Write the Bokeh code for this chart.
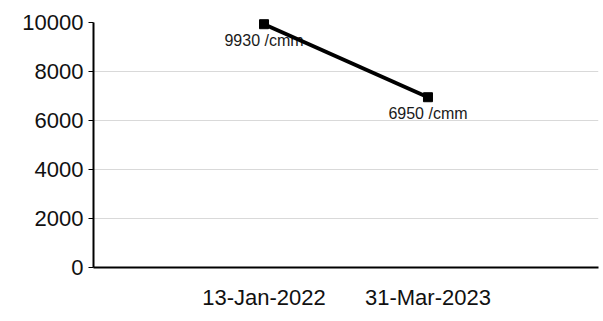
from bokeh.plotting import figure
from bokeh.models import FactorRange, Range1d, ColumnDataSource, FixedTicker, LabelSet
from bokeh.core.properties import value
from bokeh.embed import file_html
from bokeh.resources import INLINE

# Test dates and corresponding counts (/cmm)
dates = ["13-Jan-2022", "31-Mar-2023"]
counts = [9930, 6950]
labels = [f"{c} /cmm" for c in counts]
y_ticks = [0, 2000, 4000, 6000, 8000, 10000]

src = ColumnDataSource(dict(x=dates, y=counts, label=labels))

p = figure(
    width=603, height=321,
    x_range=FactorRange(factors=dates, range_padding=0.54, range_padding_units="absolute"),
    y_range=Range1d(0, 10000),
    output_backend="svg", toolbar_location=None,
    min_border_left=93, min_border_right=5, min_border_top=22, min_border_bottom=54,
)
p.outline_line_color = None
p.background_fill_color = "white"
p.border_fill_color = "white"

# y axis
p.yaxis.ticker = FixedTicker(ticks=y_ticks)
p.yaxis.axis_line_color = "black"
p.yaxis.axis_line_width = 2
p.yaxis.major_tick_line_color = "black"
p.yaxis.major_tick_out = 5
p.yaxis.major_tick_in = 0
p.yaxis.minor_tick_line_color = None
p.yaxis.major_label_text_font = "Liberation Sans"
p.yaxis.major_label_text_font_size = "22px"
p.yaxis.major_label_text_color = "#111111"
p.yaxis.major_label_standoff = 5

# x axis
p.xaxis.axis_line_color = "black"
p.xaxis.axis_line_width = 2
p.xaxis.major_tick_line_color = None
p.xaxis.major_tick_out = 0
p.xaxis.major_label_text_font = "Liberation Sans"
p.xaxis.major_label_text_font_size = "22px"
p.xaxis.major_label_text_color = "#111111"
p.xaxis.major_label_standoff = 17

# grid
p.xgrid.grid_line_color = None
p.ygrid.grid_line_color = "#d9d9d9"
p.ygrid.grid_line_width = 1

# value labels under each point
p.add_layout(LabelSet(
    x="x", y="y", text="label", source=src,
    y_offset=-8, text_align="center", text_baseline="top",
    text_font=value("Liberation Sans"), text_font_size="16px", text_color="#1a1a1a",
))

# series drawn above the labels
p.line("x", "y", source=src, line_color="black", line_width=4, level="overlay")
p.scatter("x", "y", source=src, marker="square", size=9,
          fill_color="black", line_color="black", level="overlay")

open("out.html", "w").write(file_html(p, INLINE))
